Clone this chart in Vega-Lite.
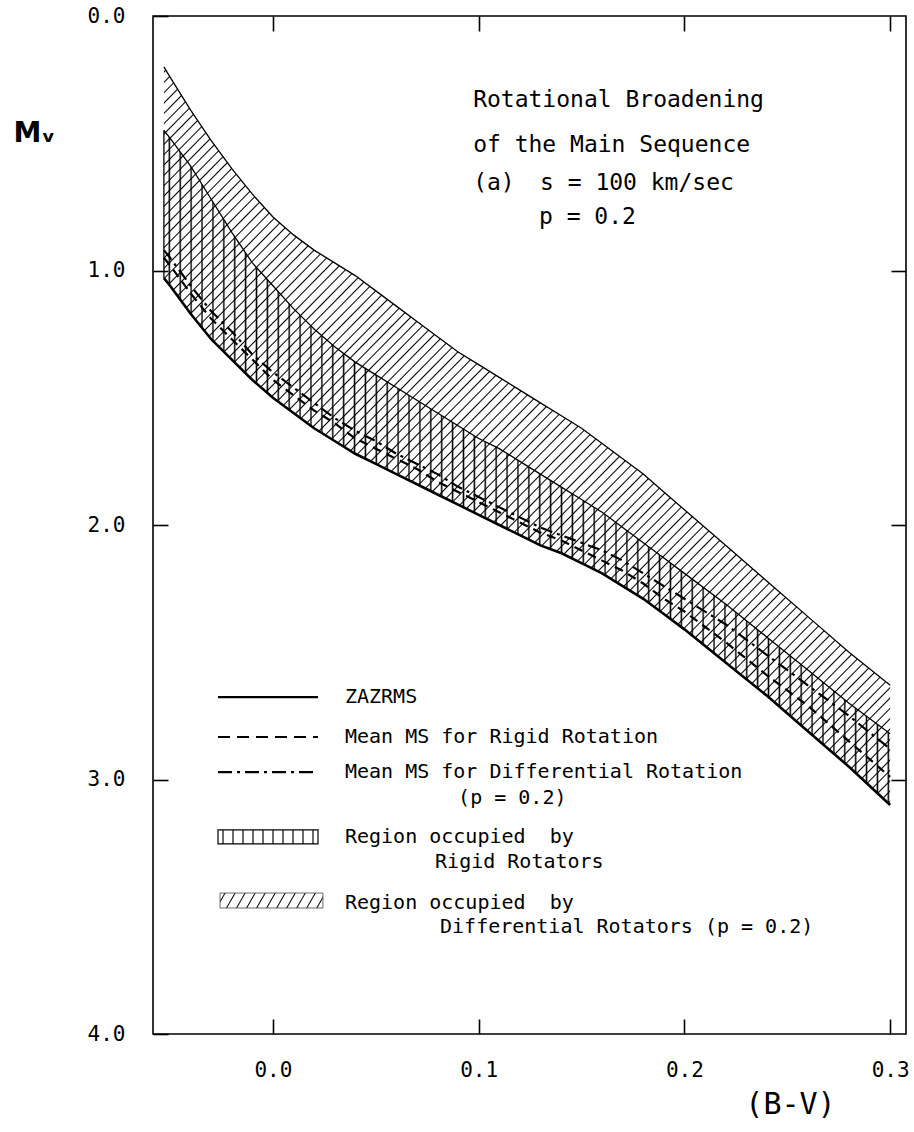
{
"$schema":"https://vega.github.io/schema/vega-lite/v6.json",
"width":753,"height":1018,
"autosize":{"type":"none"},
"padding":{"left":153,"top":16,"right":8,"bottom":98},
"background":"white",
"config":{"view":{"stroke":"#000","strokeWidth":1.6},
"axis":{"grid":false,"domain":false,"ticks":true,"tickColor":"#000","tickWidth":1.6,"tickSize":-15,"labelColor":"#000","labelFont":"DejaVu Sans Mono","labelFontSize":21,"labelFlush":false,"labelOverlap":false,"titleColor":"#000","titleFont":"DejaVu Sans Mono","titleFontWeight":"normal","zindex":1}},
"datasets":{
"curves":[
{"bv":-0.053,"zams":1.03,"rigidMean":0.95,"diffMean":0.92,"rigidUpper":0.45,"diffUpper":0.20},
{"bv":-0.05,"zams":1.06,"rigidMean":0.98,"diffMean":0.95,"rigidUpper":0.48,"diffUpper":0.24},
{"bv":-0.04,"zams":1.17,"rigidMean":1.09,"diffMean":1.06,"rigidUpper":0.59,"diffUpper":0.37},
{"bv":-0.03,"zams":1.27,"rigidMean":1.19,"diffMean":1.16,"rigidUpper":0.72,"diffUpper":0.49},
{"bv":-0.02,"zams":1.35,"rigidMean":1.27,"diffMean":1.24,"rigidUpper":0.85,"diffUpper":0.60},
{"bv":-0.01,"zams":1.43,"rigidMean":1.35,"diffMean":1.33,"rigidUpper":0.97,"diffUpper":0.70},
{"bv":0.00,"zams":1.50,"rigidMean":1.43,"diffMean":1.40,"rigidUpper":1.06,"diffUpper":0.79},
{"bv":0.01,"zams":1.56,"rigidMean":1.49,"diffMean":1.46,"rigidUpper":1.15,"diffUpper":0.86},
{"bv":0.02,"zams":1.62,"rigidMean":1.55,"diffMean":1.52,"rigidUpper":1.23,"diffUpper":0.92},
{"bv":0.03,"zams":1.67,"rigidMean":1.60,"diffMean":1.58,"rigidUpper":1.30,"diffUpper":0.97},
{"bv":0.04,"zams":1.72,"rigidMean":1.66,"diffMean":1.63,"rigidUpper":1.36,"diffUpper":1.02},
{"bv":0.05,"zams":1.76,"rigidMean":1.70,"diffMean":1.67,"rigidUpper":1.41,"diffUpper":1.08},
{"bv":0.06,"zams":1.80,"rigidMean":1.74,"diffMean":1.72,"rigidUpper":1.46,"diffUpper":1.14},
{"bv":0.07,"zams":1.84,"rigidMean":1.78,"diffMean":1.76,"rigidUpper":1.51,"diffUpper":1.20},
{"bv":0.08,"zams":1.88,"rigidMean":1.83,"diffMean":1.80,"rigidUpper":1.56,"diffUpper":1.26},
{"bv":0.09,"zams":1.92,"rigidMean":1.87,"diffMean":1.85,"rigidUpper":1.61,"diffUpper":1.32},
{"bv":0.10,"zams":1.96,"rigidMean":1.91,"diffMean":1.89,"rigidUpper":1.66,"diffUpper":1.37},
{"bv":0.11,"zams":2.00,"rigidMean":1.95,"diffMean":1.93,"rigidUpper":1.70,"diffUpper":1.42},
{"bv":0.12,"zams":2.04,"rigidMean":1.99,"diffMean":1.97,"rigidUpper":1.75,"diffUpper":1.47},
{"bv":0.13,"zams":2.08,"rigidMean":2.03,"diffMean":2.01,"rigidUpper":1.80,"diffUpper":1.52},
{"bv":0.14,"zams":2.11,"rigidMean":2.06,"diffMean":2.04,"rigidUpper":1.85,"diffUpper":1.57},
{"bv":0.15,"zams":2.15,"rigidMean":2.10,"diffMean":2.07,"rigidUpper":1.90,"diffUpper":1.62},
{"bv":0.16,"zams":2.19,"rigidMean":2.14,"diffMean":2.10,"rigidUpper":1.95,"diffUpper":1.68},
{"bv":0.17,"zams":2.24,"rigidMean":2.18,"diffMean":2.14,"rigidUpper":2.01,"diffUpper":1.74},
{"bv":0.18,"zams":2.29,"rigidMean":2.23,"diffMean":2.19,"rigidUpper":2.07,"diffUpper":1.80},
{"bv":0.19,"zams":2.35,"rigidMean":2.29,"diffMean":2.24,"rigidUpper":2.13,"diffUpper":1.87},
{"bv":0.20,"zams":2.41,"rigidMean":2.34,"diffMean":2.29,"rigidUpper":2.19,"diffUpper":1.94},
{"bv":0.22,"zams":2.54,"rigidMean":2.46,"diffMean":2.39,"rigidUpper":2.31,"diffUpper":2.08},
{"bv":0.24,"zams":2.67,"rigidMean":2.59,"diffMean":2.51,"rigidUpper":2.44,"diffUpper":2.22},
{"bv":0.26,"zams":2.81,"rigidMean":2.71,"diffMean":2.63,"rigidUpper":2.57,"diffUpper":2.36},
{"bv":0.28,"zams":2.95,"rigidMean":2.85,"diffMean":2.75,"rigidUpper":2.70,"diffUpper":2.50},
{"bv":0.30,"zams":3.10,"rigidMean":2.99,"diffMean":2.88,"rigidUpper":2.82,"diffUpper":2.63}
],
"notes":[
{"text":"Rotational Broadening","bv":0.0973,"mv":0.33},
{"text":"of the Main Sequence","bv":0.0973,"mv":0.507},
{"text":"(a)","bv":0.0973,"mv":0.656},
{"text":"s = 100 km/sec","bv":0.1298,"mv":0.656},
{"text":"p = 0.2","bv":0.1293,"mv":0.79}
],
"legendText":[
{"text":"ZAZRMS","bv":0.035,"mv":2.676},
{"text":"Mean MS for Rigid Rotation","bv":0.035,"mv":2.833},
{"text":"Mean MS for Differential Rotation","bv":0.035,"mv":2.971},
{"text":"(p = 0.2)","bv":0.09,"mv":3.073},
{"text":"Region occupied\u00a0 by","bv":0.035,"mv":3.226},
{"text":"Rigid Rotators","bv":0.0788,"mv":3.324},
{"text":"Region occupied\u00a0 by","bv":0.035,"mv":3.485},
{"text":"Differential Rotators (p = 0.2)","bv":0.0812,"mv":3.58}
],
"legendKeys":[
{"key":"solid","x1":-0.0267,"x2":0.0219,"mv":2.676},
{"key":"dash","x1":-0.0267,"x2":0.0219,"mv":2.833},
{"key":"dashdot","x1":-0.0267,"x2":0.0219,"mv":2.971}
],
"legendBoxes":[
{"key":"rigid","x1":-0.0267,"x2":0.0219,"y1":3.198,"y2":3.253},
{"key":"diff","x1":-0.0257,"x2":0.0243,"y1":3.446,"y2":3.505}
]
},
"resolve":{"axis":{"x":"independent","y":"independent"}},
"layer":[
{"data":{"name":"curves"},
"mark":{"type":"area","fill":{"gradient":"linear","x1":0,"y1":0,"x2":1,"y2":1,"stops":[
{"offset":0.0025,"color":"#0000"},{"offset":0.0035,"color":"#000"},{"offset":0.0045,"color":"#0000"},
{"offset":0.0095,"color":"#0000"},{"offset":0.0105,"color":"#000"},{"offset":0.0115,"color":"#0000"},
{"offset":0.0165,"color":"#0000"},{"offset":0.0175,"color":"#000"},{"offset":0.0185,"color":"#0000"},
{"offset":0.0235,"color":"#0000"},{"offset":0.0245,"color":"#000"},{"offset":0.0255,"color":"#0000"},
{"offset":0.0305,"color":"#0000"},{"offset":0.0315,"color":"#000"},{"offset":0.0325,"color":"#0000"},
{"offset":0.0375,"color":"#0000"},{"offset":0.0385,"color":"#000"},{"offset":0.0395,"color":"#0000"},
{"offset":0.0445,"color":"#0000"},{"offset":0.0455,"color":"#000"},{"offset":0.0465,"color":"#0000"},
{"offset":0.0515,"color":"#0000"},{"offset":0.0525,"color":"#000"},{"offset":0.0535,"color":"#0000"},
{"offset":0.0585,"color":"#0000"},{"offset":0.0595,"color":"#000"},{"offset":0.0605,"color":"#0000"},
{"offset":0.0655,"color":"#0000"},{"offset":0.0665,"color":"#000"},{"offset":0.0675,"color":"#0000"},
{"offset":0.0725,"color":"#0000"},{"offset":0.0735,"color":"#000"},{"offset":0.0745,"color":"#0000"},
{"offset":0.0795,"color":"#0000"},{"offset":0.0805,"color":"#000"},{"offset":0.0815,"color":"#0000"},
{"offset":0.0865,"color":"#0000"},{"offset":0.0875,"color":"#000"},{"offset":0.0885,"color":"#0000"},
{"offset":0.0935,"color":"#0000"},{"offset":0.0945,"color":"#000"},{"offset":0.0955,"color":"#0000"},
{"offset":0.1005,"color":"#0000"},{"offset":0.1015,"color":"#000"},{"offset":0.1025,"color":"#0000"},
{"offset":0.1075,"color":"#0000"},{"offset":0.1085,"color":"#000"},{"offset":0.1095,"color":"#0000"},
{"offset":0.1145,"color":"#0000"},{"offset":0.1155,"color":"#000"},{"offset":0.1165,"color":"#0000"},
{"offset":0.1215,"color":"#0000"},{"offset":0.1225,"color":"#000"},{"offset":0.1235,"color":"#0000"},
{"offset":0.1285,"color":"#0000"},{"offset":0.1295,"color":"#000"},{"offset":0.1305,"color":"#0000"},
{"offset":0.1355,"color":"#0000"},{"offset":0.1365,"color":"#000"},{"offset":0.1375,"color":"#0000"},
{"offset":0.1425,"color":"#0000"},{"offset":0.1435,"color":"#000"},{"offset":0.1445,"color":"#0000"},
{"offset":0.1495,"color":"#0000"},{"offset":0.1505,"color":"#000"},{"offset":0.1515,"color":"#0000"},
{"offset":0.1565,"color":"#0000"},{"offset":0.1575,"color":"#000"},{"offset":0.1585,"color":"#0000"},
{"offset":0.1635,"color":"#0000"},{"offset":0.1645,"color":"#000"},{"offset":0.1655,"color":"#0000"},
{"offset":0.1705,"color":"#0000"},{"offset":0.1715,"color":"#000"},{"offset":0.1725,"color":"#0000"},
{"offset":0.1775,"color":"#0000"},{"offset":0.1785,"color":"#000"},{"offset":0.1795,"color":"#0000"},
{"offset":0.1845,"color":"#0000"},{"offset":0.1855,"color":"#000"},{"offset":0.1865,"color":"#0000"},
{"offset":0.1915,"color":"#0000"},{"offset":0.1925,"color":"#000"},{"offset":0.1935,"color":"#0000"},
{"offset":0.1985,"color":"#0000"},{"offset":0.1995,"color":"#000"},{"offset":0.2005,"color":"#0000"},
{"offset":0.2055,"color":"#0000"},{"offset":0.2065,"color":"#000"},{"offset":0.2075,"color":"#0000"},
{"offset":0.2125,"color":"#0000"},{"offset":0.2135,"color":"#000"},{"offset":0.2145,"color":"#0000"},
{"offset":0.2195,"color":"#0000"},{"offset":0.2205,"color":"#000"},{"offset":0.2215,"color":"#0000"},
{"offset":0.2265,"color":"#0000"},{"offset":0.2275,"color":"#000"},{"offset":0.2285,"color":"#0000"},
{"offset":0.2335,"color":"#0000"},{"offset":0.2345,"color":"#000"},{"offset":0.2355,"color":"#0000"},
{"offset":0.2405,"color":"#0000"},{"offset":0.2415,"color":"#000"},{"offset":0.2425,"color":"#0000"},
{"offset":0.2475,"color":"#0000"},{"offset":0.2485,"color":"#000"},{"offset":0.2495,"color":"#0000"},
{"offset":0.2545,"color":"#0000"},{"offset":0.2555,"color":"#000"},{"offset":0.2565,"color":"#0000"},
{"offset":0.2615,"color":"#0000"},{"offset":0.2625,"color":"#000"},{"offset":0.2635,"color":"#0000"},
{"offset":0.2685,"color":"#0000"},{"offset":0.2695,"color":"#000"},{"offset":0.2705,"color":"#0000"},
{"offset":0.2755,"color":"#0000"},{"offset":0.2765,"color":"#000"},{"offset":0.2775,"color":"#0000"},
{"offset":0.2825,"color":"#0000"},{"offset":0.2835,"color":"#000"},{"offset":0.2845,"color":"#0000"},
{"offset":0.2895,"color":"#0000"},{"offset":0.2905,"color":"#000"},{"offset":0.2915,"color":"#0000"},
{"offset":0.2965,"color":"#0000"},{"offset":0.2975,"color":"#000"},{"offset":0.2985,"color":"#0000"},
{"offset":0.3035,"color":"#0000"},{"offset":0.3045,"color":"#000"},{"offset":0.3055,"color":"#0000"},
{"offset":0.3105,"color":"#0000"},{"offset":0.3115,"color":"#000"},{"offset":0.3125,"color":"#0000"},
{"offset":0.3175,"color":"#0000"},{"offset":0.3185,"color":"#000"},{"offset":0.3195,"color":"#0000"},
{"offset":0.3245,"color":"#0000"},{"offset":0.3255,"color":"#000"},{"offset":0.3265,"color":"#0000"},
{"offset":0.3315,"color":"#0000"},{"offset":0.3325,"color":"#000"},{"offset":0.3335,"color":"#0000"},
{"offset":0.3385,"color":"#0000"},{"offset":0.3395,"color":"#000"},{"offset":0.3405,"color":"#0000"},
{"offset":0.3455,"color":"#0000"},{"offset":0.3465,"color":"#000"},{"offset":0.3475,"color":"#0000"},
{"offset":0.3525,"color":"#0000"},{"offset":0.3535,"color":"#000"},{"offset":0.3545,"color":"#0000"},
{"offset":0.3595,"color":"#0000"},{"offset":0.3605,"color":"#000"},{"offset":0.3615,"color":"#0000"},
{"offset":0.3665,"color":"#0000"},{"offset":0.3675,"color":"#000"},{"offset":0.3685,"color":"#0000"},
{"offset":0.3735,"color":"#0000"},{"offset":0.3745,"color":"#000"},{"offset":0.3755,"color":"#0000"},
{"offset":0.3805,"color":"#0000"},{"offset":0.3815,"color":"#000"},{"offset":0.3825,"color":"#0000"},
{"offset":0.3875,"color":"#0000"},{"offset":0.3885,"color":"#000"},{"offset":0.3895,"color":"#0000"},
{"offset":0.3945,"color":"#0000"},{"offset":0.3955,"color":"#000"},{"offset":0.3965,"color":"#0000"},
{"offset":0.4015,"color":"#0000"},{"offset":0.4025,"color":"#000"},{"offset":0.4035,"color":"#0000"},
{"offset":0.4085,"color":"#0000"},{"offset":0.4095,"color":"#000"},{"offset":0.4105,"color":"#0000"},
{"offset":0.4155,"color":"#0000"},{"offset":0.4165,"color":"#000"},{"offset":0.4175,"color":"#0000"},
{"offset":0.4225,"color":"#0000"},{"offset":0.4235,"color":"#000"},{"offset":0.4245,"color":"#0000"},
{"offset":0.4295,"color":"#0000"},{"offset":0.4305,"color":"#000"},{"offset":0.4315,"color":"#0000"},
{"offset":0.4365,"color":"#0000"},{"offset":0.4375,"color":"#000"},{"offset":0.4385,"color":"#0000"},
{"offset":0.4435,"color":"#0000"},{"offset":0.4445,"color":"#000"},{"offset":0.4455,"color":"#0000"},
{"offset":0.4505,"color":"#0000"},{"offset":0.4515,"color":"#000"},{"offset":0.4525,"color":"#0000"},
{"offset":0.4575,"color":"#0000"},{"offset":0.4585,"color":"#000"},{"offset":0.4595,"color":"#0000"},
{"offset":0.4645,"color":"#0000"},{"offset":0.4655,"color":"#000"},{"offset":0.4665,"color":"#0000"},
{"offset":0.4715,"color":"#0000"},{"offset":0.4725,"color":"#000"},{"offset":0.4735,"color":"#0000"},
{"offset":0.4785,"color":"#0000"},{"offset":0.4795,"color":"#000"},{"offset":0.4805,"color":"#0000"},
{"offset":0.4855,"color":"#0000"},{"offset":0.4865,"color":"#000"},{"offset":0.4875,"color":"#0000"},
{"offset":0.4925,"color":"#0000"},{"offset":0.4935,"color":"#000"},{"offset":0.4945,"color":"#0000"},
{"offset":0.4995,"color":"#0000"},{"offset":0.5005,"color":"#000"},{"offset":0.5015,"color":"#0000"},
{"offset":0.5065,"color":"#0000"},{"offset":0.5075,"color":"#000"},{"offset":0.5085,"color":"#0000"},
{"offset":0.5135,"color":"#0000"},{"offset":0.5145,"color":"#000"},{"offset":0.5155,"color":"#0000"},
{"offset":0.5205,"color":"#0000"},{"offset":0.5215,"color":"#000"},{"offset":0.5225,"color":"#0000"},
{"offset":0.5275,"color":"#0000"},{"offset":0.5285,"color":"#000"},{"offset":0.5295,"color":"#0000"},
{"offset":0.5345,"color":"#0000"},{"offset":0.5355,"color":"#000"},{"offset":0.5365,"color":"#0000"},
{"offset":0.5415,"color":"#0000"},{"offset":0.5425,"color":"#000"},{"offset":0.5435,"color":"#0000"},
{"offset":0.5485,"color":"#0000"},{"offset":0.5495,"color":"#000"},{"offset":0.5505,"color":"#0000"},
{"offset":0.5555,"color":"#0000"},{"offset":0.5565,"color":"#000"},{"offset":0.5575,"color":"#0000"},
{"offset":0.5625,"color":"#0000"},{"offset":0.5635,"color":"#000"},{"offset":0.5645,"color":"#0000"},
{"offset":0.5695,"color":"#0000"},{"offset":0.5705,"color":"#000"},{"offset":0.5715,"color":"#0000"},
{"offset":0.5765,"color":"#0000"},{"offset":0.5775,"color":"#000"},{"offset":0.5785,"color":"#0000"},
{"offset":0.5835,"color":"#0000"},{"offset":0.5845,"color":"#000"},{"offset":0.5855,"color":"#0000"},
{"offset":0.5905,"color":"#0000"},{"offset":0.5915,"color":"#000"},{"offset":0.5925,"color":"#0000"},
{"offset":0.5975,"color":"#0000"},{"offset":0.5985,"color":"#000"},{"offset":0.5995,"color":"#0000"},
{"offset":0.6045,"color":"#0000"},{"offset":0.6055,"color":"#000"},{"offset":0.6065,"color":"#0000"},
{"offset":0.6115,"color":"#0000"},{"offset":0.6125,"color":"#000"},{"offset":0.6135,"color":"#0000"},
{"offset":0.6185,"color":"#0000"},{"offset":0.6195,"color":"#000"},{"offset":0.6205,"color":"#0000"},
{"offset":0.6255,"color":"#0000"},{"offset":0.6265,"color":"#000"},{"offset":0.6275,"color":"#0000"},
{"offset":0.6325,"color":"#0000"},{"offset":0.6335,"color":"#000"},{"offset":0.6345,"color":"#0000"},
{"offset":0.6395,"color":"#0000"},{"offset":0.6405,"color":"#000"},{"offset":0.6415,"color":"#0000"},
{"offset":0.6465,"color":"#0000"},{"offset":0.6475,"color":"#000"},{"offset":0.6485,"color":"#0000"},
{"offset":0.6535,"color":"#0000"},{"offset":0.6545,"color":"#000"},{"offset":0.6555,"color":"#0000"},
{"offset":0.6605,"color":"#0000"},{"offset":0.6615,"color":"#000"},{"offset":0.6625,"color":"#0000"},
{"offset":0.6675,"color":"#0000"},{"offset":0.6685,"color":"#000"},{"offset":0.6695,"color":"#0000"},
{"offset":0.6745,"color":"#0000"},{"offset":0.6755,"color":"#000"},{"offset":0.6765,"color":"#0000"},
{"offset":0.6815,"color":"#0000"},{"offset":0.6825,"color":"#000"},{"offset":0.6835,"color":"#0000"},
{"offset":0.6885,"color":"#0000"},{"offset":0.6895,"color":"#000"},{"offset":0.6905,"color":"#0000"},
{"offset":0.6955,"color":"#0000"},{"offset":0.6965,"color":"#000"},{"offset":0.6975,"color":"#0000"},
{"offset":0.7025,"color":"#0000"},{"offset":0.7035,"color":"#000"},{"offset":0.7045,"color":"#0000"},
{"offset":0.7095,"color":"#0000"},{"offset":0.7105,"color":"#000"},{"offset":0.7115,"color":"#0000"},
{"offset":0.7165,"color":"#0000"},{"offset":0.7175,"color":"#000"},{"offset":0.7185,"color":"#0000"},
{"offset":0.7235,"color":"#0000"},{"offset":0.7245,"color":"#000"},{"offset":0.7255,"color":"#0000"},
{"offset":0.7305,"color":"#0000"},{"offset":0.7315,"color":"#000"},{"offset":0.7325,"color":"#0000"},
{"offset":0.7375,"color":"#0000"},{"offset":0.7385,"color":"#000"},{"offset":0.7395,"color":"#0000"},
{"offset":0.7445,"color":"#0000"},{"offset":0.7455,"color":"#000"},{"offset":0.7465,"color":"#0000"},
{"offset":0.7515,"color":"#0000"},{"offset":0.7525,"color":"#000"},{"offset":0.7535,"color":"#0000"},
{"offset":0.7585,"color":"#0000"},{"offset":0.7595,"color":"#000"},{"offset":0.7605,"color":"#0000"},
{"offset":0.7655,"color":"#0000"},{"offset":0.7665,"color":"#000"},{"offset":0.7675,"color":"#0000"},
{"offset":0.7725,"color":"#0000"},{"offset":0.7735,"color":"#000"},{"offset":0.7745,"color":"#0000"},
{"offset":0.7795,"color":"#0000"},{"offset":0.7805,"color":"#000"},{"offset":0.7815,"color":"#0000"},
{"offset":0.7865,"color":"#0000"},{"offset":0.7875,"color":"#000"},{"offset":0.7885,"color":"#0000"},
{"offset":0.7935,"color":"#0000"},{"offset":0.7945,"color":"#000"},{"offset":0.7955,"color":"#0000"},
{"offset":0.8005,"color":"#0000"},{"offset":0.8015,"color":"#000"},{"offset":0.8025,"color":"#0000"},
{"offset":0.8075,"color":"#0000"},{"offset":0.8085,"color":"#000"},{"offset":0.8095,"color":"#0000"},
{"offset":0.8145,"color":"#0000"},{"offset":0.8155,"color":"#000"},{"offset":0.8165,"color":"#0000"},
{"offset":0.8215,"color":"#0000"},{"offset":0.8225,"color":"#000"},{"offset":0.8235,"color":"#0000"},
{"offset":0.8285,"color":"#0000"},{"offset":0.8295,"color":"#000"},{"offset":0.8305,"color":"#0000"},
{"offset":0.8355,"color":"#0000"},{"offset":0.8365,"color":"#000"},{"offset":0.8375,"color":"#0000"},
{"offset":0.8425,"color":"#0000"},{"offset":0.8435,"color":"#000"},{"offset":0.8445,"color":"#0000"},
{"offset":0.8495,"color":"#0000"},{"offset":0.8505,"color":"#000"},{"offset":0.8515,"color":"#0000"},
{"offset":0.8565,"color":"#0000"},{"offset":0.8575,"color":"#000"},{"offset":0.8585,"color":"#0000"},
{"offset":0.8635,"color":"#0000"},{"offset":0.8645,"color":"#000"},{"offset":0.8655,"color":"#0000"},
{"offset":0.8705,"color":"#0000"},{"offset":0.8715,"color":"#000"},{"offset":0.8725,"color":"#0000"},
{"offset":0.8775,"color":"#0000"},{"offset":0.8785,"color":"#000"},{"offset":0.8795,"color":"#0000"},
{"offset":0.8845,"color":"#0000"},{"offset":0.8855,"color":"#000"},{"offset":0.8865,"color":"#0000"},
{"offset":0.8915,"color":"#0000"},{"offset":0.8925,"color":"#000"},{"offset":0.8935,"color":"#0000"},
{"offset":0.8985,"color":"#0000"},{"offset":0.8995,"color":"#000"},{"offset":0.9005,"color":"#0000"},
{"offset":0.9055,"color":"#0000"},{"offset":0.9065,"color":"#000"},{"offset":0.9075,"color":"#0000"},
{"offset":0.9125,"color":"#0000"},{"offset":0.9135,"color":"#000"},{"offset":0.9145,"color":"#0000"},
{"offset":0.9195,"color":"#0000"},{"offset":0.9205,"color":"#000"},{"offset":0.9215,"color":"#0000"},
{"offset":0.9265,"color":"#0000"},{"offset":0.9275,"color":"#000"},{"offset":0.9285,"color":"#0000"},
{"offset":0.9335,"color":"#0000"},{"offset":0.9345,"color":"#000"},{"offset":0.9355,"color":"#0000"},
{"offset":0.9405,"color":"#0000"},{"offset":0.9415,"color":"#000"},{"offset":0.9425,"color":"#0000"},
{"offset":0.9475,"color":"#0000"},{"offset":0.9485,"color":"#000"},{"offset":0.9495,"color":"#0000"},
{"offset":0.9545,"color":"#0000"},{"offset":0.9555,"color":"#000"},{"offset":0.9565,"color":"#0000"},
{"offset":0.9615,"color":"#0000"},{"offset":0.9625,"color":"#000"},{"offset":0.9635,"color":"#0000"},
{"offset":0.9685,"color":"#0000"},{"offset":0.9695,"color":"#000"},{"offset":0.9705,"color":"#0000"},
{"offset":0.9755,"color":"#0000"},{"offset":0.9765,"color":"#000"},{"offset":0.9775,"color":"#0000"},
{"offset":0.9825,"color":"#0000"},{"offset":0.9835,"color":"#000"},{"offset":0.9845,"color":"#0000"},
{"offset":0.9895,"color":"#0000"},{"offset":0.9905,"color":"#000"},{"offset":0.9915,"color":"#0000"},
{"offset":0.9965,"color":"#0000"},{"offset":0.9975,"color":"#000"},{"offset":0.9985,"color":"#0000"}
]}},
"encoding":{
"x":{"field":"bv","type":"quantitative","scale":{"domain":[-0.0583,0.3077],"nice":false,"zero":false},
"axis":{"orient":"bottom","values":[0,0.1,0.2,0.3],"format":".1f","labelPadding":40,"title":"(B-V)","titleFontSize":30,"titleX":637,"titleY":70,"titleAlign":"center","titleBaseline":"middle"}},
"y":{"field":"diffUpper","type":"quantitative","scale":{"domain":[0,4],"reverse":true,"nice":false,"zero":false},
"axis":{"orient":"left","values":[0,1,2,3,4],"format":".1f","labelPadding":43,"title":"M\u1d65","titleAngle":0,"titleX":-140,"titleY":117,"titleAlign":"left","titleBaseline":"middle","titleFont":"DejaVu Sans","titleFontSize":28,"titleFontWeight":"bold"}},
"y2":{"field":"zams"}}},
{"data":{"name":"curves"},
"mark":{"type":"area","fill":{"gradient":"linear","x1":0,"y1":0,"x2":1,"y2":0,"stops":[
{"offset":0.0055,"color":"#0000"},{"offset":0.0075,"color":"#000"},{"offset":0.0095,"color":"#0000"},
{"offset":0.0205,"color":"#0000"},{"offset":0.0225,"color":"#000"},{"offset":0.0245,"color":"#0000"},
{"offset":0.0355,"color":"#0000"},{"offset":0.0375,"color":"#000"},{"offset":0.0395,"color":"#0000"},
{"offset":0.0505,"color":"#0000"},{"offset":0.0525,"color":"#000"},{"offset":0.0545,"color":"#0000"},
{"offset":0.0655,"color":"#0000"},{"offset":0.0675,"color":"#000"},{"offset":0.0695,"color":"#0000"},
{"offset":0.0805,"color":"#0000"},{"offset":0.0825,"color":"#000"},{"offset":0.0845,"color":"#0000"},
{"offset":0.0955,"color":"#0000"},{"offset":0.0975,"color":"#000"},{"offset":0.0995,"color":"#0000"},
{"offset":0.1105,"color":"#0000"},{"offset":0.1125,"color":"#000"},{"offset":0.1145,"color":"#0000"},
{"offset":0.1255,"color":"#0000"},{"offset":0.1275,"color":"#000"},{"offset":0.1295,"color":"#0000"},
{"offset":0.1405,"color":"#0000"},{"offset":0.1425,"color":"#000"},{"offset":0.1445,"color":"#0000"},
{"offset":0.1555,"color":"#0000"},{"offset":0.1575,"color":"#000"},{"offset":0.1595,"color":"#0000"},
{"offset":0.1705,"color":"#0000"},{"offset":0.1725,"color":"#000"},{"offset":0.1745,"color":"#0000"},
{"offset":0.1855,"color":"#0000"},{"offset":0.1875,"color":"#000"},{"offset":0.1895,"color":"#0000"},
{"offset":0.2005,"color":"#0000"},{"offset":0.2025,"color":"#000"},{"offset":0.2045,"color":"#0000"},
{"offset":0.2155,"color":"#0000"},{"offset":0.2175,"color":"#000"},{"offset":0.2195,"color":"#0000"},
{"offset":0.2305,"color":"#0000"},{"offset":0.2325,"color":"#000"},{"offset":0.2345,"color":"#0000"},
{"offset":0.2455,"color":"#0000"},{"offset":0.2475,"color":"#000"},{"offset":0.2495,"color":"#0000"},
{"offset":0.2605,"color":"#0000"},{"offset":0.2625,"color":"#000"},{"offset":0.2645,"color":"#0000"},
{"offset":0.2755,"color":"#0000"},{"offset":0.2775,"color":"#000"},{"offset":0.2795,"color":"#0000"},
{"offset":0.2905,"color":"#0000"},{"offset":0.2925,"color":"#000"},{"offset":0.2945,"color":"#0000"},
{"offset":0.3055,"color":"#0000"},{"offset":0.3075,"color":"#000"},{"offset":0.3095,"color":"#0000"},
{"offset":0.3205,"color":"#0000"},{"offset":0.3225,"color":"#000"},{"offset":0.3245,"color":"#0000"},
{"offset":0.3355,"color":"#0000"},{"offset":0.3375,"color":"#000"},{"offset":0.3395,"color":"#0000"},
{"offset":0.3505,"color":"#0000"},{"offset":0.3525,"color":"#000"},{"offset":0.3545,"color":"#0000"},
{"offset":0.3655,"color":"#0000"},{"offset":0.3675,"color":"#000"},{"offset":0.3695,"color":"#0000"},
{"offset":0.3805,"color":"#0000"},{"offset":0.3825,"color":"#000"},{"offset":0.3845,"color":"#0000"},
{"offset":0.3955,"color":"#0000"},{"offset":0.3975,"color":"#000"},{"offset":0.3995,"color":"#0000"},
{"offset":0.4105,"color":"#0000"},{"offset":0.4125,"color":"#000"},{"offset":0.4145,"color":"#0000"},
{"offset":0.4255,"color":"#0000"},{"offset":0.4275,"color":"#000"},{"offset":0.4295,"color":"#0000"},
{"offset":0.4405,"color":"#0000"},{"offset":0.4425,"color":"#000"},{"offset":0.4445,"color":"#0000"},
{"offset":0.4555,"color":"#0000"},{"offset":0.4575,"color":"#000"},{"offset":0.4595,"color":"#0000"},
{"offset":0.4705,"color":"#0000"},{"offset":0.4725,"color":"#000"},{"offset":0.4745,"color":"#0000"},
{"offset":0.4855,"color":"#0000"},{"offset":0.4875,"color":"#000"},{"offset":0.4895,"color":"#0000"},
{"offset":0.5005,"color":"#0000"},{"offset":0.5025,"color":"#000"},{"offset":0.5045,"color":"#0000"},
{"offset":0.5155,"color":"#0000"},{"offset":0.5175,"color":"#000"},{"offset":0.5195,"color":"#0000"},
{"offset":0.5305,"color":"#0000"},{"offset":0.5325,"color":"#000"},{"offset":0.5345,"color":"#0000"},
{"offset":0.5455,"color":"#0000"},{"offset":0.5475,"color":"#000"},{"offset":0.5495,"color":"#0000"},
{"offset":0.5605,"color":"#0000"},{"offset":0.5625,"color":"#000"},{"offset":0.5645,"color":"#0000"},
{"offset":0.5755,"color":"#0000"},{"offset":0.5775,"color":"#000"},{"offset":0.5795,"color":"#0000"},
{"offset":0.5905,"color":"#0000"},{"offset":0.5925,"color":"#000"},{"offset":0.5945,"color":"#0000"},
{"offset":0.6055,"color":"#0000"},{"offset":0.6075,"color":"#000"},{"offset":0.6095,"color":"#0000"},
{"offset":0.6205,"color":"#0000"},{"offset":0.6225,"color":"#000"},{"offset":0.6245,"color":"#0000"},
{"offset":0.6355,"color":"#0000"},{"offset":0.6375,"color":"#000"},{"offset":0.6395,"color":"#0000"},
{"offset":0.6505,"color":"#0000"},{"offset":0.6525,"color":"#000"},{"offset":0.6545,"color":"#0000"},
{"offset":0.6655,"color":"#0000"},{"offset":0.6675,"color":"#000"},{"offset":0.6695,"color":"#0000"},
{"offset":0.6805,"color":"#0000"},{"offset":0.6825,"color":"#000"},{"offset":0.6845,"color":"#0000"},
{"offset":0.6955,"color":"#0000"},{"offset":0.6975,"color":"#000"},{"offset":0.6995,"color":"#0000"},
{"offset":0.7105,"color":"#0000"},{"offset":0.7125,"color":"#000"},{"offset":0.7145,"color":"#0000"},
{"offset":0.7255,"color":"#0000"},{"offset":0.7275,"color":"#000"},{"offset":0.7295,"color":"#0000"},
{"offset":0.7405,"color":"#0000"},{"offset":0.7425,"color":"#000"},{"offset":0.7445,"color":"#0000"},
{"offset":0.7555,"color":"#0000"},{"offset":0.7575,"color":"#000"},{"offset":0.7595,"color":"#0000"},
{"offset":0.7705,"color":"#0000"},{"offset":0.7725,"color":"#000"},{"offset":0.7745,"color":"#0000"},
{"offset":0.7855,"color":"#0000"},{"offset":0.7875,"color":"#000"},{"offset":0.7895,"color":"#0000"},
{"offset":0.8005,"color":"#0000"},{"offset":0.8025,"color":"#000"},{"offset":0.8045,"color":"#0000"},
{"offset":0.8155,"color":"#0000"},{"offset":0.8175,"color":"#000"},{"offset":0.8195,"color":"#0000"},
{"offset":0.8305,"color":"#0000"},{"offset":0.8325,"color":"#000"},{"offset":0.8345,"color":"#0000"},
{"offset":0.8455,"color":"#0000"},{"offset":0.8475,"color":"#000"},{"offset":0.8495,"color":"#0000"},
{"offset":0.8605,"color":"#0000"},{"offset":0.8625,"color":"#000"},{"offset":0.8645,"color":"#0000"},
{"offset":0.8755,"color":"#0000"},{"offset":0.8775,"color":"#000"},{"offset":0.8795,"color":"#0000"},
{"offset":0.8905,"color":"#0000"},{"offset":0.8925,"color":"#000"},{"offset":0.8945,"color":"#0000"},
{"offset":0.9055,"color":"#0000"},{"offset":0.9075,"color":"#000"},{"offset":0.9095,"color":"#0000"},
{"offset":0.9205,"color":"#0000"},{"offset":0.9225,"color":"#000"},{"offset":0.9245,"color":"#0000"},
{"offset":0.9355,"color":"#0000"},{"offset":0.9375,"color":"#000"},{"offset":0.9395,"color":"#0000"},
{"offset":0.9505,"color":"#0000"},{"offset":0.9525,"color":"#000"},{"offset":0.9545,"color":"#0000"},
{"offset":0.9655,"color":"#0000"},{"offset":0.9675,"color":"#000"},{"offset":0.9695,"color":"#0000"},
{"offset":0.9805,"color":"#0000"},{"offset":0.9825,"color":"#000"},{"offset":0.9845,"color":"#0000"},
{"offset":0.9955,"color":"#0000"},{"offset":0.9975,"color":"#000"},{"offset":0.9995,"color":"#0000"}
]}},
"encoding":{
"x":{"field":"bv","type":"quantitative","axis":{"orient":"top","values":[0,0.1,0.2,0.3],"labels":false,"title":null}},
"y":{"field":"rigidUpper","type":"quantitative","axis":{"orient":"right","values":[1,2,3],"labels":false,"title":null}},
"y2":{"field":"zams"}}},
{"data":{"name":"curves"},"mark":{"type":"line","stroke":"#000","strokeWidth":1.3},
"encoding":{"x":{"field":"bv","type":"quantitative","axis":null},"y":{"field":"diffUpper","type":"quantitative","axis":null}}},
{"data":{"name":"curves"},"mark":{"type":"line","stroke":"#000","strokeWidth":1.3},
"encoding":{"x":{"field":"bv","type":"quantitative","axis":null},"y":{"field":"rigidUpper","type":"quantitative","axis":null}}},
{"data":{"name":"curves"},"transform":[{"filter":{"field":"bv","lt":-0.052}}],"mark":{"type":"rule","stroke":"#000","strokeWidth":1.3},
"encoding":{"x":{"field":"bv","type":"quantitative","axis":null},"y":{"field":"rigidUpper","type":"quantitative","axis":null},"y2":{"field":"zams"}}},
{"data":{"name":"curves"},"mark":{"type":"line","stroke":"#000","strokeWidth":2.2,"strokeDash":[9,6]},
"encoding":{"x":{"field":"bv","type":"quantitative","axis":null},"y":{"field":"rigidMean","type":"quantitative","axis":null}}},
{"data":{"name":"curves"},"mark":{"type":"line","stroke":"#000","strokeWidth":2.2,"strokeDash":[12,5,3,5]},
"encoding":{"x":{"field":"bv","type":"quantitative","axis":null},"y":{"field":"diffMean","type":"quantitative","axis":null}}},
{"data":{"name":"curves"},"mark":{"type":"line","stroke":"#000","strokeWidth":2.6},
"encoding":{"x":{"field":"bv","type":"quantitative","axis":null},"y":{"field":"zams","type":"quantitative","axis":null}}},
{"data":{"name":"legendKeys"},"mark":{"type":"rule","stroke":"#000","strokeWidth":2.2},
"encoding":{"x":{"field":"x1","type":"quantitative","axis":null},"x2":{"field":"x2"},"y":{"field":"mv","type":"quantitative","axis":null},
"strokeDash":{"field":"key","type":"nominal","scale":{"domain":["solid","dash","dashdot"],"range":[[1,0],[12,7],[14,5,3,5]]},"legend":null}}},
{"data":{"name":"legendBoxes"},"transform":[{"filter":{"field":"key","equal":"rigid"}}],
"mark":{"type":"rect","stroke":"#000","strokeWidth":1.2,"fill":{"gradient":"linear","x1":0,"y1":0,"x2":1,"y2":0,"stops":[
{"offset":0.038,"color":"#0000"},{"offset":0.05,"color":"#000"},{"offset":0.062,"color":"#0000"},
{"offset":0.138,"color":"#0000"},{"offset":0.15,"color":"#000"},{"offset":0.162,"color":"#0000"},
{"offset":0.238,"color":"#0000"},{"offset":0.25,"color":"#000"},{"offset":0.262,"color":"#0000"},
{"offset":0.338,"color":"#0000"},{"offset":0.35,"color":"#000"},{"offset":0.362,"color":"#0000"},
{"offset":0.438,"color":"#0000"},{"offset":0.45,"color":"#000"},{"offset":0.462,"color":"#0000"},
{"offset":0.538,"color":"#0000"},{"offset":0.55,"color":"#000"},{"offset":0.562,"color":"#0000"},
{"offset":0.638,"color":"#0000"},{"offset":0.65,"color":"#000"},{"offset":0.662,"color":"#0000"},
{"offset":0.738,"color":"#0000"},{"offset":0.75,"color":"#000"},{"offset":0.762,"color":"#0000"},
{"offset":0.838,"color":"#0000"},{"offset":0.85,"color":"#000"},{"offset":0.862,"color":"#0000"},
{"offset":0.938,"color":"#0000"},{"offset":0.95,"color":"#000"},{"offset":0.962,"color":"#0000"}
]}},
"encoding":{"x":{"field":"x1","type":"quantitative","axis":null},"x2":{"field":"x2"},"y":{"field":"y1","type":"quantitative","axis":null},"y2":{"field":"y2"}}},
{"data":{"name":"legendBoxes"},"transform":[{"filter":{"field":"key","equal":"diff"}}],
"mark":{"type":"rect","stroke":"#444","strokeWidth":0.8,"fill":{"gradient":"linear","x1":0,"y1":0,"x2":1.1,"y2":0.092,"stops":[
{"offset":0.034,"color":"#0000"},{"offset":0.044,"color":"#000"},{"offset":0.054,"color":"#0000"},
{"offset":0.122,"color":"#0000"},{"offset":0.132,"color":"#000"},{"offset":0.142,"color":"#0000"},
{"offset":0.21,"color":"#0000"},{"offset":0.22,"color":"#000"},{"offset":0.23,"color":"#0000"},
{"offset":0.298,"color":"#0000"},{"offset":0.308,"color":"#000"},{"offset":0.318,"color":"#0000"},
{"offset":0.386,"color":"#0000"},{"offset":0.396,"color":"#000"},{"offset":0.406,"color":"#0000"},
{"offset":0.474,"color":"#0000"},{"offset":0.484,"color":"#000"},{"offset":0.494,"color":"#0000"},
{"offset":0.562,"color":"#0000"},{"offset":0.572,"color":"#000"},{"offset":0.582,"color":"#0000"},
{"offset":0.65,"color":"#0000"},{"offset":0.66,"color":"#000"},{"offset":0.67,"color":"#0000"},
{"offset":0.738,"color":"#0000"},{"offset":0.748,"color":"#000"},{"offset":0.758,"color":"#0000"},
{"offset":0.826,"color":"#0000"},{"offset":0.836,"color":"#000"},{"offset":0.846,"color":"#0000"},
{"offset":0.914,"color":"#0000"},{"offset":0.924,"color":"#000"},{"offset":0.934,"color":"#0000"}
]}},
"encoding":{"x":{"field":"x1","type":"quantitative","axis":null},"x2":{"field":"x2"},"y":{"field":"y1","type":"quantitative","axis":null},"y2":{"field":"y2"}}},
{"data":{"name":"notes"},"mark":{"type":"text","align":"left","baseline":"middle","font":"DejaVu Sans Mono","fontSize":23,"color":"#000"},
"encoding":{"x":{"field":"bv","type":"quantitative","axis":null},"y":{"field":"mv","type":"quantitative","axis":null},"text":{"field":"text"}}},
{"data":{"name":"legendText"},"mark":{"type":"text","align":"left","baseline":"middle","font":"DejaVu Sans Mono","fontSize":20,"color":"#000"},
"encoding":{"x":{"field":"bv","type":"quantitative","axis":null},"y":{"field":"mv","type":"quantitative","axis":null},"text":{"field":"text"}}}
]
}
